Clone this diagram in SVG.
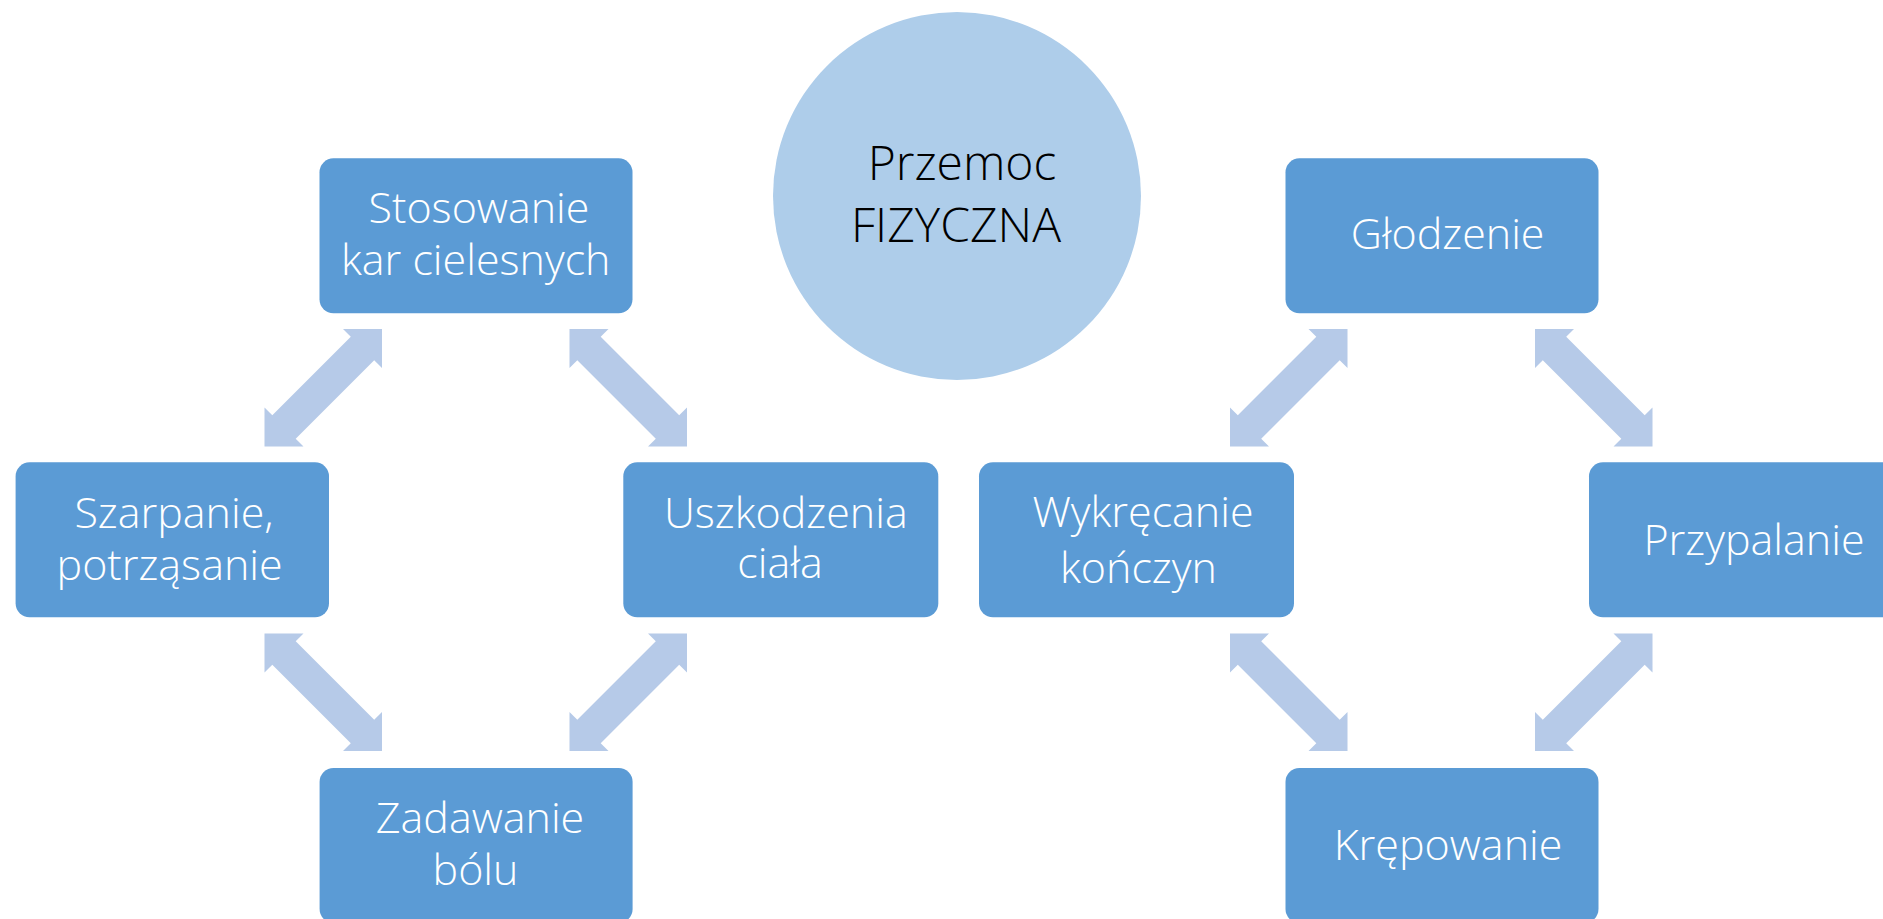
<svg xmlns="http://www.w3.org/2000/svg" xmlns:xlink="http://www.w3.org/1999/xlink" width="1883" height="919" viewBox="0 0 1883 919">
  <style>
    .box { fill: #5B9BD5; }
    .arrow { fill: #B6CAE8; }
    .hub { fill: #AECDEA; }
    .lbl { font-family: "Open Sans", "Liberation Sans", sans-serif; font-weight: 300; font-size: 43px; fill: #FFFFFF; text-anchor: middle; }
    .hubtxt { font-family: "Open Sans", "Liberation Sans", sans-serif; font-weight: 300; font-size: 48px; fill: #000000; text-anchor: middle; }
  </style>
  <defs>
    <polygon id="dbl" points="0,0 39,0 31.2,7.8 109.7,86.3 117.5,78.5 117.5,117.5 78.5,117.5 86.3,109.7 7.8,31.2 0,39"/>
  </defs>
  <rect width="1883" height="919" fill="#FFFFFF"/>

  <g id="connectors">
    <use xlink:href="#dbl" class="arrow" transform="translate(382,329) scale(-1,1)"/>
    <use xlink:href="#dbl" class="arrow" transform="translate(569.5,329)"/>
    <use xlink:href="#dbl" class="arrow" transform="translate(264.5,633.5)"/>
    <use xlink:href="#dbl" class="arrow" transform="translate(687,633.5) scale(-1,1)"/>
    <use xlink:href="#dbl" class="arrow" transform="translate(1347.5,329) scale(-1,1)"/>
    <use xlink:href="#dbl" class="arrow" transform="translate(1535,329)"/>
    <use xlink:href="#dbl" class="arrow" transform="translate(1230,633.5)"/>
    <use xlink:href="#dbl" class="arrow" transform="translate(1652.5,633.5) scale(-1,1)"/>
  </g>

  <g id="hub">
    <circle class="hub" cx="957" cy="196" r="184"/>
    <text class="hubtxt" x="962" y="180">Przemoc</text>
    <text class="hubtxt" x="956" y="242">FIZYCZNA</text>
  </g>

  <g id="stosowanie">
    <rect class="box" x="319.5" y="158.3" width="313" height="155" rx="14"/>
    <text class="lbl" x="479" y="222.7">Stosowanie</text>
    <text class="lbl" x="475.7" y="275">kar cielesnych</text>
  </g>

  <g id="szarpanie">
    <rect class="box" x="15.6" y="462.3" width="313.4" height="155" rx="14"/>
    <text class="lbl" x="174" y="528">Szarpanie,</text>
    <text class="lbl" x="169.6" y="580">potrząsanie</text>
  </g>

  <g id="uszkodzenia">
    <rect class="box" x="623.3" y="462.3" width="315" height="155" rx="14"/>
    <text class="lbl" x="785.8" y="527.7">Uszkodzenia</text>
    <text class="lbl" x="780" y="578.3">ciała</text>
  </g>

  <g id="zadawanie">
    <rect class="box" x="319.6" y="768" width="313" height="155" rx="14"/>
    <text class="lbl" x="480" y="833">Zadawanie</text>
    <text class="lbl" x="475.5" y="885">bólu</text>
  </g>

  <g id="glodzenie">
    <rect class="box" x="1285.5" y="158.3" width="313" height="155" rx="14"/>
    <text class="lbl" x="1447.6" y="249">Głodzenie</text>
  </g>

  <g id="wykrecanie">
    <rect class="box" x="979" y="462.3" width="315" height="155" rx="14"/>
    <text class="lbl" x="1143" y="526.7">Wykręcanie</text>
    <text class="lbl" x="1138.4" y="582.7">kończyn</text>
  </g>

  <g id="przypalanie">
    <rect class="box" x="1589" y="462.3" width="315" height="155" rx="14"/>
    <text class="lbl" x="1754" y="555">Przypalanie</text>
  </g>

  <g id="krepowanie">
    <rect class="box" x="1285.5" y="768" width="313" height="155" rx="14"/>
    <text class="lbl" x="1448" y="860">Krępowanie</text>
  </g>
</svg>
